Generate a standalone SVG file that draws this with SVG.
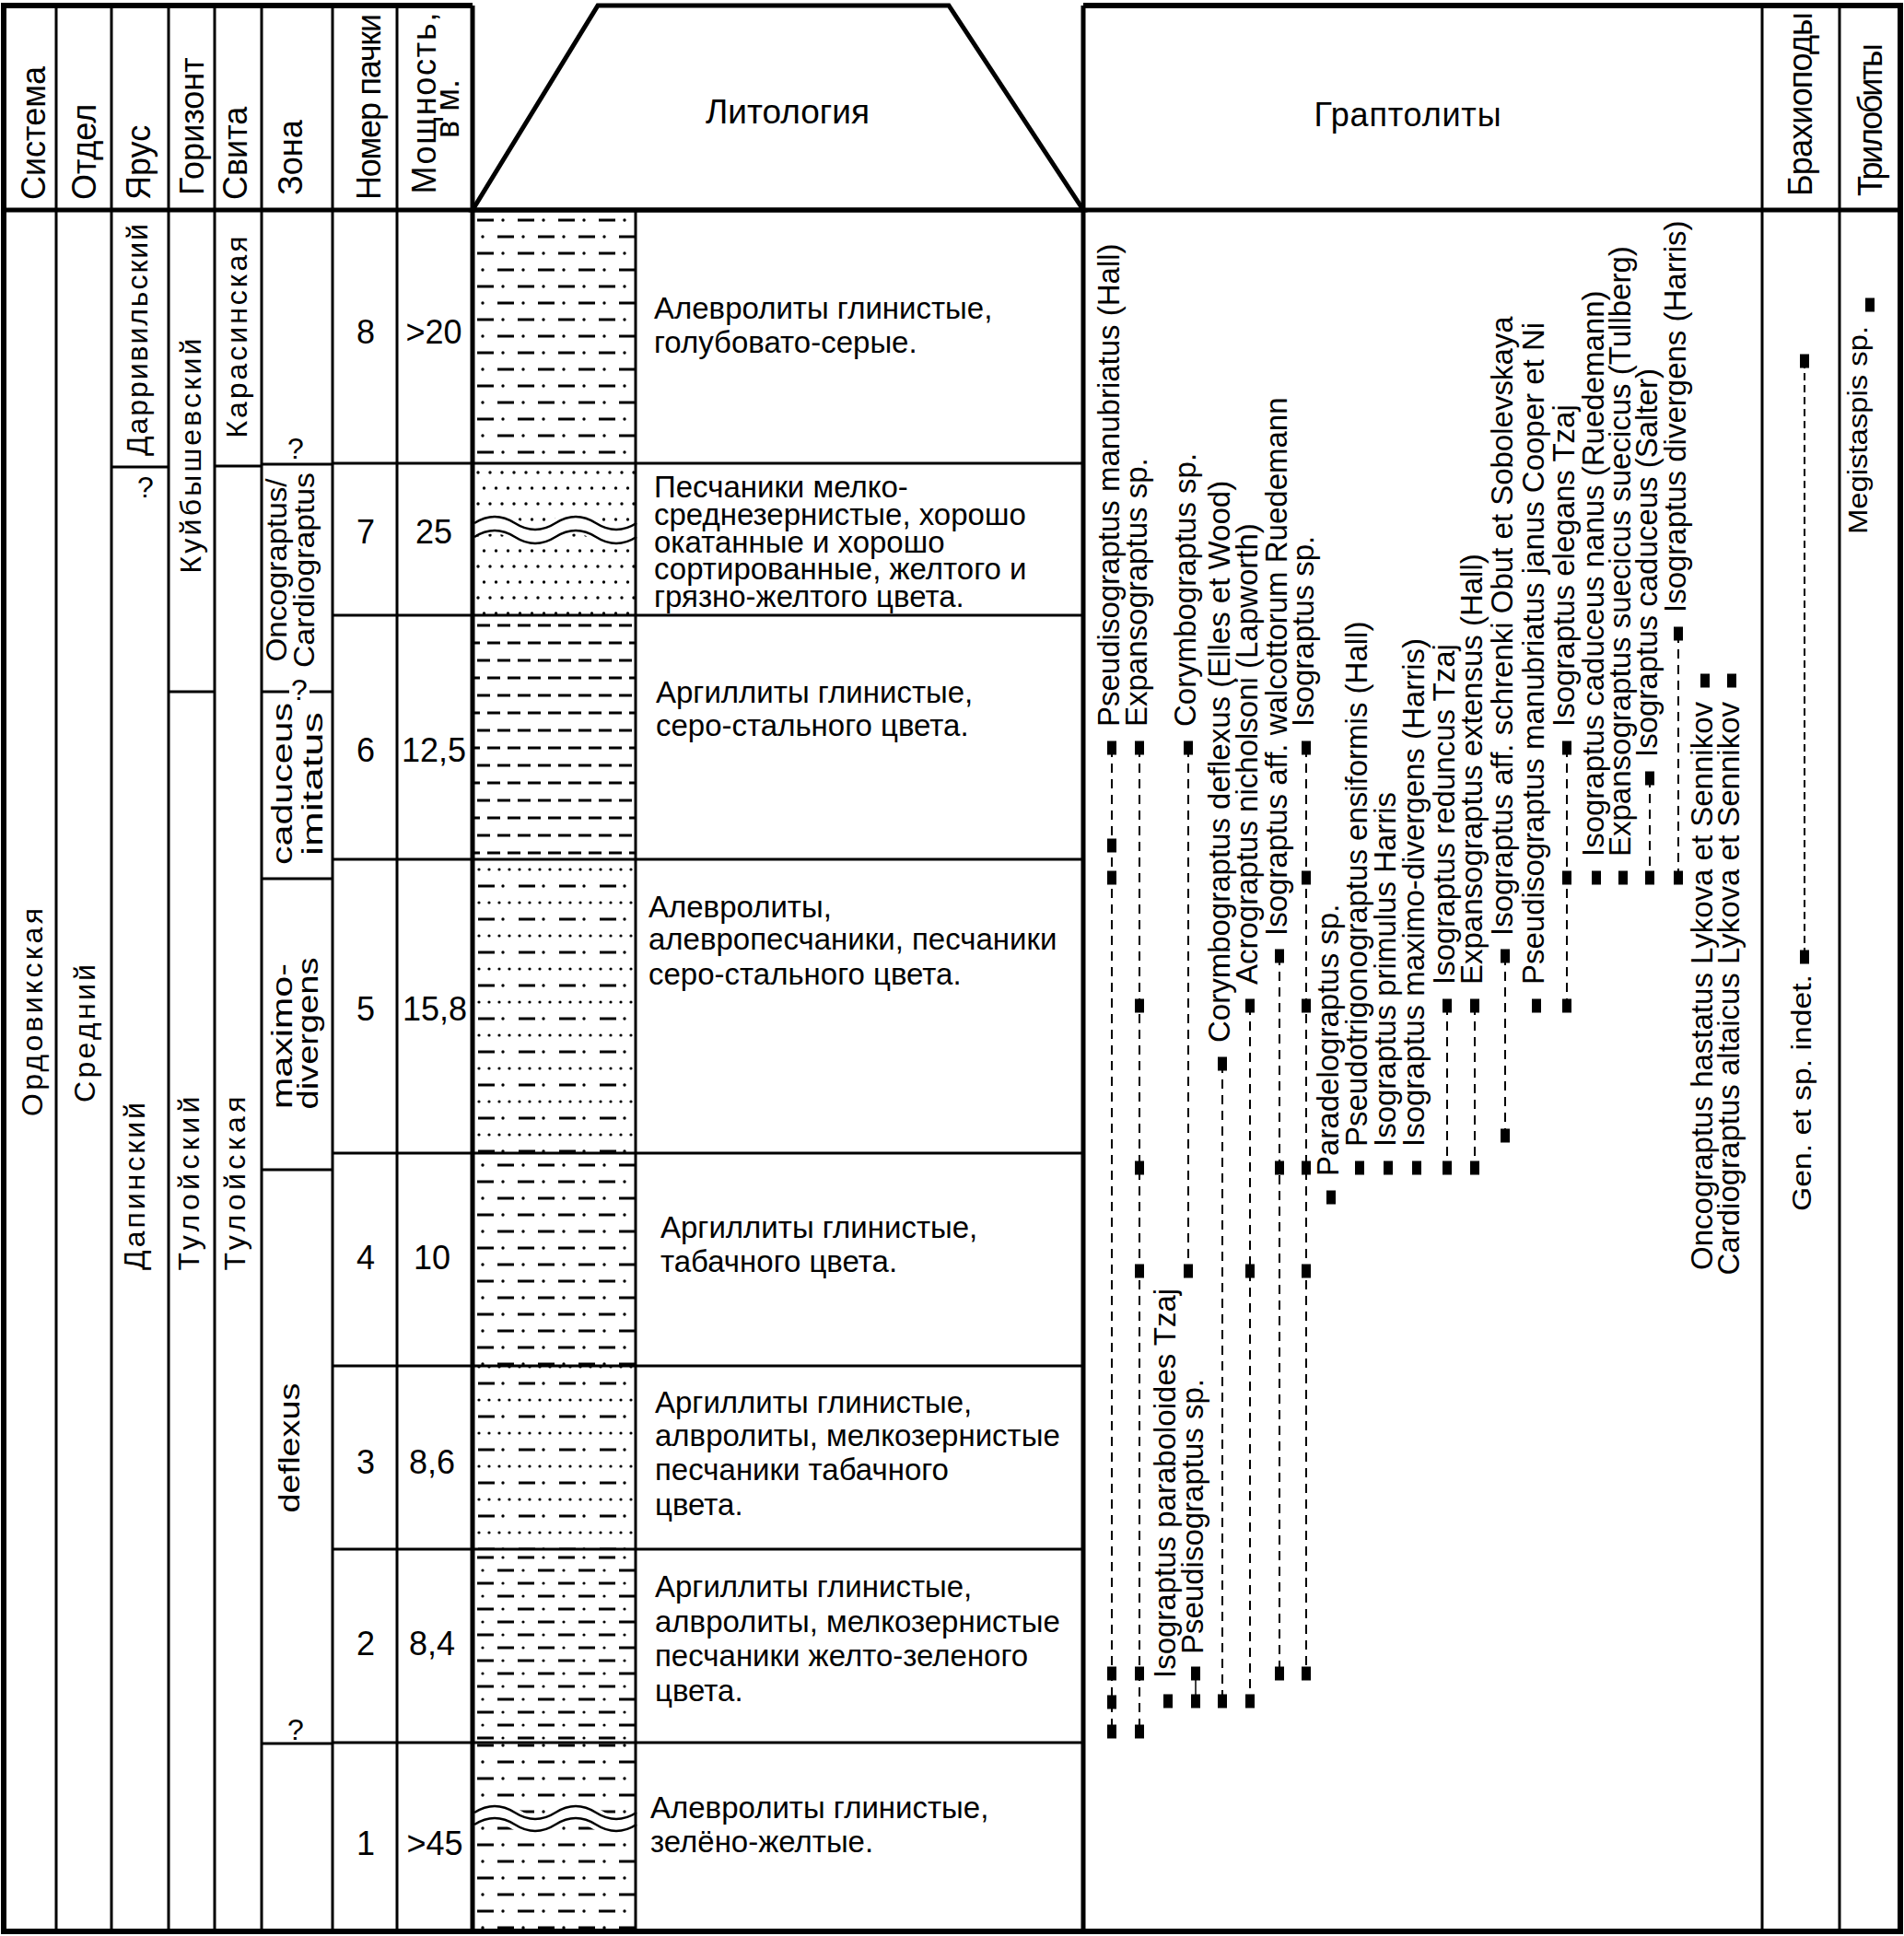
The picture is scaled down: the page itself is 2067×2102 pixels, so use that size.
<svg xmlns="http://www.w3.org/2000/svg" width="2067" height="2102" viewBox="0 0 2067 2102">
<defs>
<style>
text{font-family:'Liberation Sans',Arial,sans-serif;fill:#000}
.h{font-size:36px}
.c{font-size:32px;text-anchor:middle}
.n{font-size:36px;text-anchor:middle}
.d{font-size:33px}
.g{font-size:33px}
.ge{font-size:33px;text-anchor:end}
.q{font-size:32px;text-anchor:middle}
.L6{stroke:#000;stroke-width:6;fill:none}
.L5{stroke:#000;stroke-width:5;fill:none}
.L3{stroke:#000;stroke-width:3;fill:none}
.rng{stroke:#000;stroke-width:2;stroke-dasharray:10 7;fill:none}
.sol{stroke:#000;stroke-width:1.5;fill:none}
.mk{fill:#000}
.pl{stroke:#000;stroke-width:3}
.wv{stroke:#000;stroke-width:2.5;fill:none}
.wvb{stroke:#fff;stroke-width:22;fill:none}
</style>
<pattern id="pSilt" patternUnits="userSpaceOnUse" x="515" y="230" width="44" height="36">
<line class="pl" x1="3" y1="9" x2="21" y2="9"/><circle cx="31" cy="9" r="1.7"/>
<line class="pl" x1="25" y1="27" x2="43" y2="27"/><circle cx="9" cy="27" r="1.7"/>
</pattern>
<pattern id="pSilt2" patternUnits="userSpaceOnUse" x="515" y="1684" width="44" height="28">
<line class="pl" x1="3" y1="7" x2="21" y2="7"/><circle cx="31" cy="7" r="1.6"/>
<line class="pl" x1="25" y1="21" x2="43" y2="21"/><circle cx="9" cy="21" r="1.6"/>
</pattern>
<pattern id="pSand" patternUnits="userSpaceOnUse" x="515" y="505" width="26" height="34">
<circle cx="4" cy="8" r="1.7"/><circle cx="17" cy="8" r="1.7"/>
<circle cx="10.5" cy="25" r="1.7"/><circle cx="23.5" cy="25" r="1.7"/>
</pattern>
<pattern id="pClay" patternUnits="userSpaceOnUse" x="515" y="670" width="44" height="38">
<line class="pl" x1="3" y1="9" x2="17" y2="9"/><line class="pl" x1="25" y1="9" x2="39" y2="9"/>
<line class="pl" x1="14" y1="28" x2="28" y2="28"/><line class="pl" x1="36" y1="28" x2="44" y2="28"/><line class="pl" x1="0" y1="28" x2="6" y2="28"/>
</pattern>
<pattern id="pMix" patternUnits="userSpaceOnUse" x="515" y="935" width="44" height="36">
<circle cx="5" cy="9" r="1.6"/><circle cx="16" cy="9" r="1.6"/><circle cx="27" cy="9" r="1.6"/><circle cx="38" cy="9" r="1.6"/>
<line class="pl" x1="4" y1="27" x2="22" y2="27"/><circle cx="31" cy="27" r="1.7"/>
</pattern>
</defs>
<rect width="2067" height="2102" fill="#fff"/>

<g id="lithology-patterns">
<rect x="515" y="230" width="174" height="273" fill="url(#pSilt)"/>
<rect x="515" y="503" width="174" height="165" fill="url(#pSand)"/>
<rect x="515" y="668" width="174" height="265" fill="url(#pClay)"/>
<rect x="515" y="933" width="174" height="319" fill="url(#pMix)"/>
<rect x="515" y="1252" width="174" height="231" fill="url(#pSilt)"/>
<rect x="515" y="1483" width="174" height="199" fill="url(#pMix)"/>
<rect x="515" y="1682" width="174" height="210" fill="url(#pSilt2)"/>
<rect x="515" y="1892" width="174" height="203" fill="url(#pSilt)"/>
<path class="wvb" d="M515 575 q22 -14 44 0 t44 0 t44 0 t44 0"/>
<path class="wv" d="M515 568 q22 -14 44 0 t44 0 t44 0 t44 0"/>
<path class="wv" d="M515 583 q22 -14 44 0 t44 0 t44 0 t44 0"/>
<path class="wvb" d="M515 1975 q22 -14 44 0 t44 0 t44 0 t44 0"/>
<path class="wv" d="M515 1968 q22 -14 44 0 t44 0 t44 0 t44 0"/>
<path class="wv" d="M515 1981 q22 -14 44 0 t44 0 t44 0 t44 0"/>
</g>

<g id="grid">
<line class="L6" x1="4" y1="6" x2="513" y2="6"/>
<line class="L6" x1="1176" y1="6" x2="2064" y2="6"/>
<line class="L6" x1="4" y1="3" x2="4" y2="2099"/>
<line class="L6" x1="2063" y1="3" x2="2063" y2="2099"/>
<line class="L6" x1="1" y1="2097" x2="2066" y2="2097"/>
<line class="L5" x1="4" y1="228" x2="2063" y2="228"/>
<polygon class="L5" points="513,228 649,6 1030,6 1176,228"/>
<line class="L3" x1="61" y1="6" x2="61" y2="2097"/>
<line class="L3" x1="121" y1="6" x2="121" y2="2097"/>
<line class="L3" x1="183" y1="6" x2="183" y2="2097"/>
<line class="L3" x1="233" y1="6" x2="233" y2="2097"/>
<line class="L3" x1="284" y1="6" x2="284" y2="2097"/>
<line class="L3" x1="361" y1="6" x2="361" y2="2097"/>
<line class="L3" x1="431" y1="6" x2="431" y2="2097"/>
<line class="L5" x1="513" y1="6" x2="513" y2="2097"/>
<line class="L3" x1="690" y1="228" x2="690" y2="2097"/>
<line class="L5" x1="1176" y1="6" x2="1176" y2="2097"/>
<line class="L3" x1="1913" y1="6" x2="1913" y2="2097"/>
<line class="L3" x1="1997" y1="6" x2="1997" y2="2097"/>
<line class="L3" x1="361" y1="503" x2="1176" y2="503"/>
<line class="L3" x1="361" y1="668" x2="1176" y2="668"/>
<line class="L3" x1="361" y1="933" x2="1176" y2="933"/>
<line class="L3" x1="361" y1="1252" x2="1176" y2="1252"/>
<line class="L3" x1="361" y1="1483" x2="1176" y2="1483"/>
<line class="L3" x1="361" y1="1682" x2="1176" y2="1682"/>
<line class="L3" x1="361" y1="1892" x2="1176" y2="1892"/>
<line class="L3" x1="121" y1="507" x2="183" y2="507"/>
<line class="L3" x1="183" y1="751" x2="233" y2="751"/>
<line class="L3" x1="233" y1="506" x2="284" y2="506"/>
<line class="L3" x1="284" y1="504" x2="361" y2="504"/>
<line class="L3" x1="284" y1="751" x2="314" y2="751"/>
<line class="L3" x1="336" y1="751" x2="361" y2="751"/>
<line class="L3" x1="284" y1="954" x2="361" y2="954"/>
<line class="L3" x1="284" y1="1270" x2="361" y2="1270"/>
<line class="L3" x1="284" y1="1893" x2="361" y2="1893"/>
</g>

<g id="header">
<text class="h" transform="translate(49,217) rotate(-90)">Система</text>
<text class="h" transform="translate(104,217) rotate(-90)">Отдел</text>
<text class="h" transform="translate(163,217) rotate(-90)">Ярус</text>
<text class="h" transform="translate(221,212) rotate(-90)">Горизонт</text>
<text class="h" transform="translate(268,217) rotate(-90)">Свита</text>
<text class="h" transform="translate(328,212) rotate(-90)">Зона</text>
<text class="h" transform="translate(413,217) rotate(-90)" textLength="202">Номер пачки</text>
<text class="h" transform="translate(473,112) rotate(-90)" text-anchor="middle" textLength="197">Мощность,</text>
<text class="h" transform="translate(498,118) rotate(-90)" text-anchor="middle">в м.</text>
<text class="h" x="855" y="134" text-anchor="middle" style="font-size:37px">Литология</text>
<text class="h" x="1528" y="137" text-anchor="middle" textLength="203">Граптолиты</text>
<text class="h" transform="translate(1967,213) rotate(-90)" textLength="200">Брахиоподы</text>
<text class="h" transform="translate(2043,213) rotate(-90)" textLength="166">Трилобиты</text>
</g>

<g id="stratigraphy">
<text class="c" transform="translate(46,1099) rotate(-90)" textLength="226">Ордовикская</text>
<text class="c" transform="translate(103,1122) rotate(-90)" textLength="150">Средний</text>
<text class="c" transform="translate(160,369) rotate(-90)" textLength="252">Дарривильский</text>
<text class="q" x="158" y="540">?</text>
<text class="c" transform="translate(157,1288) rotate(-90)" textLength="182">Дапинский</text>
<text class="c" transform="translate(218,495) rotate(-90)" textLength="255">Куйбышевский</text>
<text class="c" transform="translate(216,1285) rotate(-90)" textLength="189">Тулойский</text>
<text class="c" transform="translate(268,366) rotate(-90)" textLength="219">Карасинская</text>
<text class="c" transform="translate(266,1285) rotate(-90)" textLength="189">Тулойская</text>
</g>

<g id="zones">
<text class="q" x="321" y="498">?</text>
<text class="c" transform="translate(311,619) rotate(-90)" textLength="199" lengthAdjust="spacingAndGlyphs">Oncograptus/</text>
<text class="c" transform="translate(341,619) rotate(-90)" textLength="212" lengthAdjust="spacingAndGlyphs">Cardiograptus</text>
<text class="q" x="325" y="760">?</text>
<text class="c" transform="translate(317,851) rotate(-90)" textLength="176" lengthAdjust="spacingAndGlyphs">caduceus</text>
<text class="c" transform="translate(350,851) rotate(-90)" textLength="156" lengthAdjust="spacingAndGlyphs">imitatus</text>
<text class="c" transform="translate(317,1125) rotate(-90)" textLength="158" lengthAdjust="spacingAndGlyphs">maximo-</text>
<text class="c" transform="translate(345,1122) rotate(-90)" textLength="165" lengthAdjust="spacingAndGlyphs">divergens</text>
<text class="c" transform="translate(325,1572) rotate(-90)" textLength="141" lengthAdjust="spacingAndGlyphs">deflexus</text>
<text class="q" x="321" y="1889">?</text>
</g>

<g id="packs">
<text class="n" x="397" y="373">8</text><text class="n" x="471" y="373">&gt;20</text>
<text class="n" x="397" y="590">7</text><text class="n" x="471" y="590">25</text>
<text class="n" x="397" y="827">6</text><text class="n" x="471" y="827">12,5</text>
<text class="n" x="397" y="1108">5</text><text class="n" x="472" y="1108">15,8</text>
<text class="n" x="397" y="1378">4</text><text class="n" x="469" y="1378">10</text>
<text class="n" x="397" y="1600">3</text><text class="n" x="469" y="1600">8,6</text>
<text class="n" x="397" y="1797">2</text><text class="n" x="469" y="1797">8,4</text>
<text class="n" x="397" y="2014">1</text><text class="n" x="472" y="2014">&gt;45</text>
</g>

<g id="descriptions">
<text class="d" x="710" y="346">Алевролиты глинистые,</text>
<text class="d" x="710" y="383">голубовато-серые.</text>
<text class="d" x="710" y="540">Песчаники мелко-</text>
<text class="d" x="710" y="570">среднезернистые, хорошо</text>
<text class="d" x="710" y="600">окатанные и хорошо</text>
<text class="d" x="710" y="629">сортированные, желтого и</text>
<text class="d" x="710" y="659">грязно-желтого цвета.</text>
<text class="d" x="712" y="763">Аргиллиты глинистые,</text>
<text class="d" x="712" y="799">серо-стального цвета.</text>
<text class="d" x="704" y="996">Алевролиты,</text>
<text class="d" x="704" y="1031">алевропесчаники, песчаники</text>
<text class="d" x="704" y="1069">серо-стального цвета.</text>
<text class="d" x="717" y="1344">Аргиллиты глинистые,</text>
<text class="d" x="717" y="1381">табачного цвета.</text>
<text class="d" x="711" y="1534">Аргиллиты глинистые,</text>
<text class="d" x="711" y="1570">алвролиты, мелкозернистые</text>
<text class="d" x="711" y="1607">песчаники табачного</text>
<text class="d" x="711" y="1645">цвета.</text>
<text class="d" x="711" y="1734">Аргиллиты глинистые,</text>
<text class="d" x="711" y="1772">алвролиты, мелкозернистые</text>
<text class="d" x="711" y="1809">песчаники желто-зеленого</text>
<text class="d" x="711" y="1847">цвета.</text>
<text class="d" x="706" y="1974">Алевролиты глинистые,</text>
<text class="d" x="706" y="2011">зелёно-желтые.</text>
</g>

<g id="connectors">
<line class="rng" x1="1207" y1="812" x2="1207" y2="1880"/>
<line class="rng" x1="1237" y1="812" x2="1237" y2="1880"/>
<line class="rng" x1="1290" y1="812" x2="1290" y2="1380"/>
<line class="sol" x1="1298" y1="1817" x2="1298" y2="1847"/>
<line class="rng" x1="1327" y1="1155" x2="1327" y2="1847"/>
<line class="rng" x1="1357" y1="1092" x2="1357" y2="1847"/>
<line class="rng" x1="1389" y1="1038" x2="1389" y2="1817"/>
<line class="rng" x1="1418" y1="812" x2="1418" y2="1817"/>
<line class="rng" x1="1571" y1="1092" x2="1571" y2="1268"/>
<line class="rng" x1="1601" y1="1092" x2="1601" y2="1268"/>
<line class="rng" x1="1634" y1="1038" x2="1634" y2="1233"/>
<line class="rng" x1="1701" y1="812" x2="1701" y2="1092"/>
<line class="rng" x1="1791" y1="845" x2="1791" y2="953"/>
<line class="rng" x1="1822" y1="688" x2="1822" y2="953"/>
<line class="rng" x1="1959" y1="392" x2="1959" y2="1039" style="stroke-dasharray:8 5"/>
</g>

<g id="t01"><text class="g" transform="translate(1215,789) rotate(-90)">Pseudisograptus manubriatus (Hall)</text>
<rect class="mk" x="1202" y="804.5" width="10" height="15"/><rect class="mk" x="1202" y="910.5" width="10" height="15"/><rect class="mk" x="1202" y="945.5" width="10" height="15"/><rect class="mk" x="1202" y="1809.5" width="10" height="15"/><rect class="mk" x="1202" y="1840.5" width="10" height="15"/><rect class="mk" x="1202" y="1872.5" width="10" height="15"/></g>
<g id="t02"><text class="g" transform="translate(1245,789) rotate(-90)">Expansograptus sp.</text>
<rect class="mk" x="1232" y="804.5" width="10" height="15"/><rect class="mk" x="1232" y="1084.5" width="10" height="15"/><rect class="mk" x="1232" y="1260.5" width="10" height="15"/><rect class="mk" x="1232" y="1372.5" width="10" height="15"/><rect class="mk" x="1232" y="1809.5" width="10" height="15"/><rect class="mk" x="1232" y="1872.5" width="10" height="15"/></g>
<g id="t03"><text class="g" transform="translate(1276,1822) rotate(-90)">Isograptus paraboloides Tzaj</text>
<rect class="mk" x="1263" y="1839.5" width="10" height="15"/></g>
<g id="t04"><text class="g" transform="translate(1306,1796) rotate(-90)">Pseudisograptus sp.</text>
<rect class="mk" x="1293" y="1809.5" width="10" height="15"/><rect class="mk" x="1293" y="1839.5" width="10" height="15"/></g>
<g id="t05"><text class="g" transform="translate(1298,789) rotate(-90)">Corymbograptus sp.</text>
<rect class="mk" x="1285" y="804.5" width="10" height="15"/><rect class="mk" x="1285" y="1372.5" width="10" height="15"/></g>
<g id="t06"><text class="g" transform="translate(1335,1132) rotate(-90)">Corymbograptus deflexus (Elles et Wood)</text>
<rect class="mk" x="1322" y="1147.5" width="10" height="15"/><rect class="mk" x="1322" y="1839.5" width="10" height="15"/></g>
<g id="t07"><text class="g" transform="translate(1365,1069) rotate(-90)">Acrograptus nicholsoni (Lapworth)</text>
<rect class="mk" x="1352" y="1084.5" width="10" height="15"/><rect class="mk" x="1352" y="1372.5" width="10" height="15"/><rect class="mk" x="1352" y="1839.5" width="10" height="15"/></g>
<g id="t08"><text class="g" transform="translate(1397,1016) rotate(-90)">Isograptus aff. walcottorum Ruedemann</text>
<rect class="mk" x="1384" y="1030.5" width="10" height="15"/><rect class="mk" x="1384" y="1260.5" width="10" height="15"/><rect class="mk" x="1384" y="1809.5" width="10" height="15"/></g>
<g id="t09"><text class="g" transform="translate(1426,789) rotate(-90)">Isograptus sp.</text>
<rect class="mk" x="1413" y="804.5" width="10" height="15"/><rect class="mk" x="1413" y="945.5" width="10" height="15"/><rect class="mk" x="1413" y="1084.5" width="10" height="15"/><rect class="mk" x="1413" y="1260.5" width="10" height="15"/><rect class="mk" x="1413" y="1372.5" width="10" height="15"/><rect class="mk" x="1413" y="1809.5" width="10" height="15"/></g>
<g id="t10"><text class="g" transform="translate(1453,1277) rotate(-90)">Paradelograptus sp.</text>
<rect class="mk" x="1440" y="1292.5" width="10" height="15"/></g>
<g id="t11"><text class="g" transform="translate(1484,1245) rotate(-90)">Pseudotrigonograptus ensiformis (Hall)</text>
<rect class="mk" x="1471" y="1260.5" width="10" height="15"/></g>
<g id="t12"><text class="g" transform="translate(1515,1245) rotate(-90)">Isograptus primulus Harris</text>
<rect class="mk" x="1502" y="1260.5" width="10" height="15"/></g>
<g id="t13"><text class="g" transform="translate(1546,1245) rotate(-90)">Isograptus maximo-divergens (Harris)</text>
<rect class="mk" x="1533" y="1260.5" width="10" height="15"/></g>
<g id="t14"><text class="g" transform="translate(1579,1069) rotate(-90)">Isograptus reduncus Tzaj</text>
<rect class="mk" x="1566" y="1084.5" width="10" height="15"/><rect class="mk" x="1566" y="1260.5" width="10" height="15"/></g>
<g id="t15"><text class="g" transform="translate(1609,1069) rotate(-90)">Expansograptus extensus (Hall)</text>
<rect class="mk" x="1596" y="1084.5" width="10" height="15"/><rect class="mk" x="1596" y="1260.5" width="10" height="15"/></g>
<g id="t16"><text class="g" transform="translate(1642,1016) rotate(-90)">Isograptus aff. schrenki Obut et Sobolevskaya</text>
<rect class="mk" x="1629" y="1030.5" width="10" height="15"/><rect class="mk" x="1629" y="1225.5" width="10" height="15"/></g>
<g id="t17"><text class="g" transform="translate(1676,1069) rotate(-90)">Pseudisograptus manubriatus janus Cooper et Ni</text>
<rect class="mk" x="1663" y="1084.5" width="10" height="15"/></g>
<g id="t18"><text class="g" transform="translate(1709,789) rotate(-90)">Isograptus elegans Tzaj</text>
<rect class="mk" x="1696" y="804.5" width="10" height="15"/><rect class="mk" x="1696" y="945.5" width="10" height="15"/><rect class="mk" x="1696" y="1084.5" width="10" height="15"/></g>
<g id="t19"><text class="g" transform="translate(1741,930) rotate(-90)">Isograptus caduceus nanus (Ruedemann)</text>
<rect class="mk" x="1728" y="945.5" width="10" height="15"/></g>
<g id="t20"><text class="g" transform="translate(1770,930) rotate(-90)">Expansograptus suecicus suecicus (Tullberg)</text>
<rect class="mk" x="1757" y="945.5" width="10" height="15"/></g>
<g id="t21"><text class="g" transform="translate(1799,822) rotate(-90)">Isograptus caduceus (Salter)</text>
<rect class="mk" x="1786" y="837.5" width="10" height="15"/><rect class="mk" x="1786" y="945.5" width="10" height="15"/></g>
<g id="t22"><text class="g" transform="translate(1830,665) rotate(-90)">Isograptus divergens (Harris)</text>
<rect class="mk" x="1817" y="680.5" width="10" height="15"/><rect class="mk" x="1817" y="945.5" width="10" height="15"/></g>
<g id="t23"><text class="ge" transform="translate(1859,762) rotate(-90)">Oncograptus hastatus Lykova et Sennikov</text>
<rect class="mk" x="1846" y="731.5" width="10" height="15"/></g>
<g id="t24"><text class="ge" transform="translate(1888,762) rotate(-90)">Cardiograptus altaicus Lykova et Sennikov</text>
<rect class="mk" x="1875" y="731.5" width="10" height="15"/></g>

<g id="brachiopods"><text class="ge" transform="translate(1966,1058) rotate(-90) scale(1,0.9)" textLength="257" lengthAdjust="spacingAndGlyphs">Gen. et sp. indet.</text>
<rect class="mk" x="1954" y="384.5" width="10" height="15"/><rect class="mk" x="1954" y="1031.5" width="10" height="15"/></g>
<g id="trilobites"><text class="ge" transform="translate(2027,354) rotate(-90) scale(1,0.9)" textLength="226" lengthAdjust="spacingAndGlyphs">Megistaspis sp.</text>
<rect class="mk" x="2025" y="323.5" width="10" height="15"/></g>
</svg>
